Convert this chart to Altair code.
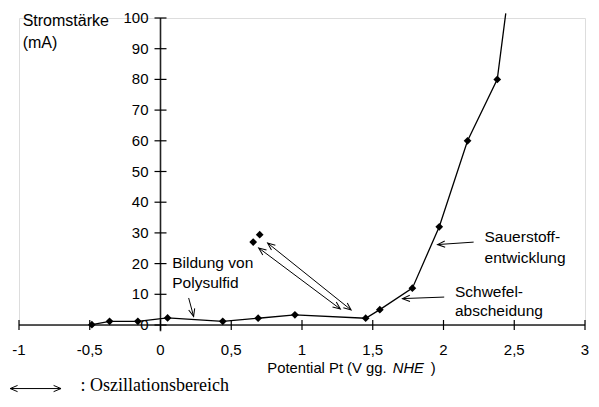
import math
import altair as alt
import pandas as pd

# ---- data ----
pot = [-0.485, -0.36, -0.16, 0.05, 0.44, 0.69, 0.95, 1.45, 1.55, 1.78, 1.97, 2.17, 2.38]
cur = [0.1, 1.2, 1.2, 2.3, 1.2, 2.2, 3.3, 2.2, 5.0, 12.0, 32.0, 60.0, 80.0]
line_end_x = [2.44]
line_end_y = [101.5]
osc_x = [0.655, 0.701]
osc_y = [27.0, 29.4]

x_ticks = [-1, -0.5, 0, 0.5, 1, 1.5, 2, 2.5, 3]
x_tick_labels = ["-1", "-0,5", "0", "0,5", "1", "1,5", "2", "2,5", "3"]
y_ticks = [0, 10, 20, 30, 40, 50, 60, 70, 80, 90, 100]
y_tick_labels = ["0", "10", "20", "30", "40", "50", "60", "70", "80", "90", "100"]

# annotation texts (x left, y centre, in data units)
ann_text = ["Bildung von", "Polysulfid", "Sauerstoff-", "entwicklung", "Schwefel-", "abscheidung"]
ann_x = [0.083, 0.083, 2.29, 2.29, 2.081, 2.081]
ann_y = [20.2, 13.7, 28.7, 21.8, 10.7, 4.4]

# arrows: start, end, double-headed?
arr_x1 = [0.199, 2.213, 2.005, 0.694, 0.757, -1.0625]
arr_y1 = [8.8, 27.0, 9.1, 25.1, 26.7, -20.7]
arr_x2 = [0.234, 1.958, 1.71, 1.271, 1.347, -0.703]
arr_y2 = [2.8, 26.2, 8.6, 5.2, 4.9, -20.7]
arr_double = [False, False, False, True, True, True]

W, H = 566, 307
XD = [-1, 3]
YD = [0, 100]
sx = W / (XD[1] - XD[0])
sy = H / (YD[1] - YD[0])

xs = alt.Scale(domain=XD, nice=False, zero=False)
ys = alt.Scale(domain=YD, nice=False, zero=False)

def X(f="x"):
    return alt.X(f, type="quantitative", scale=xs, axis=None)

def Y(f="y"):
    return alt.Y(f, type="quantitative", scale=ys, axis=None)

line_df = pd.DataFrame({"x": pot + line_end_x, "y": cur + line_end_y, "o": list(range(len(pot) + 1))})
pts_df = pd.DataFrame({"x": pot + osc_x, "y": cur + osc_y})

seg_df = pd.DataFrame({"x": arr_x1, "y": arr_y1, "x2": arr_x2, "y2": arr_y2})

heads = []
for a, b, c, d, dbl in zip(arr_x1, arr_y1, arr_x2, arr_y2, arr_double):
    dxp = (c - a) * sx
    dyp = -(d - b) * sy
    ang = math.degrees(math.atan2(dyp, dxp)) % 360
    heads.append({"x": c, "y": d, "ang": ang})
    if dbl:
        heads.append({"x": a, "y": b, "ang": (ang + 180) % 360})
head_df = pd.DataFrame(heads)

sans = "Liberation Sans"

line = alt.Chart(line_df).mark_line(color="black", strokeWidth=1.3).encode(
    x=X(), y=Y(), order="o:Q")
pts = alt.Chart(pts_df).mark_point(shape="diamond", filled=True, color="black",
                                   size=60, opacity=1).encode(x=X(), y=Y())

axes_df = pd.DataFrame({"x": [XD[0], 0], "x2": [XD[1], 0], "y": [0, -2], "y2": [0, YD[1]]})
axis_lines = alt.Chart(axes_df).mark_rule(color="#222", strokeWidth=1.6).encode(
    x=X(), x2="x2", y=Y(), y2="y2")

xt_df = pd.DataFrame({"x": x_ticks, "y": [0] * len(x_ticks), "lab": x_tick_labels})
yt_df = pd.DataFrame({"y": y_ticks, "x": [0] * len(y_ticks), "lab": y_tick_labels})
xtick = alt.Chart(xt_df).mark_rule(color="black", strokeWidth=1.2, yOffset=-5, y2Offset=5).encode(
    x=X(), y=Y(), y2="y")
ytick = alt.Chart(yt_df).mark_rule(color="black", strokeWidth=1.2, xOffset=-6, x2Offset=6).encode(
    y=Y(), x=X(), x2="x")
xlab = alt.Chart(xt_df).mark_text(font=sans, fontSize=15, dy=25, baseline="middle",
                                  align="center", color="black").encode(
    x=X(), y=Y(), text="lab:N")
ylab = alt.Chart(yt_df).mark_text(font=sans, fontSize=15, dx=-12, baseline="middle",
                                  align="right", color="black").encode(
    y=Y(), x=X(), text="lab:N")

ann_df = pd.DataFrame({"x": ann_x, "y": ann_y, "t": ann_text})
ann = alt.Chart(ann_df).mark_text(font=sans, fontSize=15.5, align="left", baseline="middle",
                                  color="black").encode(x=X(), y=Y(), text="t:N")

ylabel_df = pd.DataFrame({"x": [-0.974, -0.974], "y": [99.0, 91.9], "t": ["Stromstärke", "(mA)"]})
ylabel = alt.Chart(ylabel_df).mark_text(font=sans, fontSize=16, align="left", baseline="middle",
                                        color="black").encode(x=X(), y=Y(), text="t:N")

xt1 = pd.DataFrame({"x": [(271.7 - 163) / 144, (438 - 163) / 144], "y": [-14.3, -14.3],
                    "t": ["Potential Pt (V gg.", ")"]})
xt2 = pd.DataFrame({"x": [(399.3 - 163) / 144], "y": [-14.3], "t": ["NHE"]})
xtitle1 = alt.Chart(xt1).mark_text(font=sans, fontSize=14.8, align="left", baseline="middle",
                                   color="black").encode(x=X(), y=Y(), text="t:N")
xtitle2 = alt.Chart(xt2).mark_text(font=sans, fontSize=14.8, align="left", baseline="middle",
                                   fontStyle="italic", color="black").encode(x=X(), y=Y(), text="t:N")

segs = alt.Chart(seg_df).mark_rule(color="black", strokeWidth=1).encode(
    x=X(), y=Y(), x2="x2", y2="y2")
arrowheads = alt.Chart(head_df).mark_point(
    shape="M -1 -0.42 L 0 0 L -1 0.42", filled=False, color="black", strokeWidth=1,
    size=220, opacity=1).encode(x=X(), y=Y(), angle=alt.Angle("ang:Q", scale=None))

leg_df = pd.DataFrame({"x": [(81.7 - 163) / 144], "y": [-20.0], "t": [": Oszillationsbereich"]})
leg = alt.Chart(leg_df).mark_text(font="Liberation Serif", fontSize=18, align="left",
                                  baseline="middle", color="black").encode(x=X(), y=Y(), text="t:N")

chart = alt.layer(axis_lines, xtick, ytick, xlab, ylab, line, pts, segs, arrowheads, ann,
                  ylabel, xtitle1, xtitle2, leg).properties(
    width=W, height=H,
    autosize=alt.AutoSizeParams(type="none"),
    padding={"left": 11, "top": 10, "right": 6, "bottom": 73},
).configure_view(stroke=None).configure(background="white")

chart.save("out.html", embed_options={"renderer": "svg", "actions": False})
